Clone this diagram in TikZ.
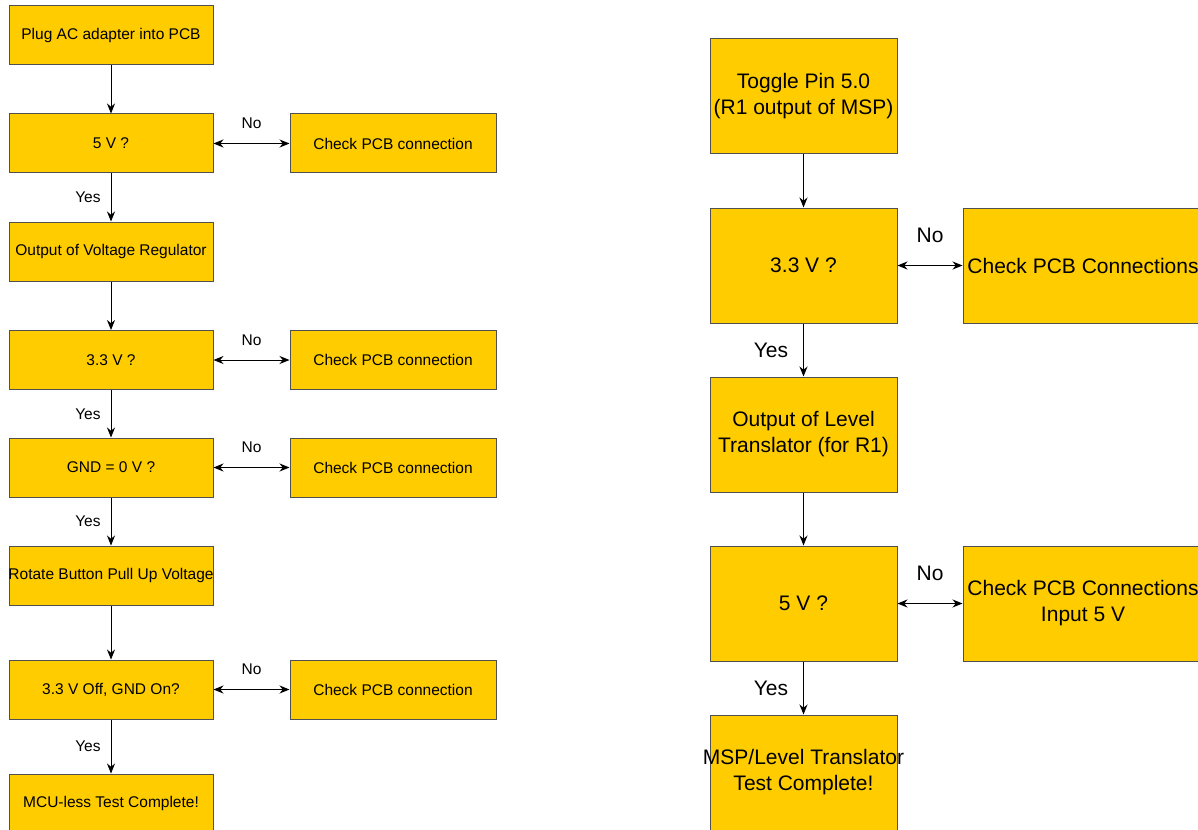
\documentclass[tikz,border=0pt]{standalone}
\usepackage{fontspec}
\setmainfont{Liberation Sans}
\usetikzlibrary{arrows.meta}
\definecolor{ambr}{RGB}{255,204,0}
\definecolor{boxline}{RGB}{80,80,80}
\newcommand\cln[1]{\makebox[0pt]{#1}}
\tikzset{
  lbox/.style={rectangle, draw=boxline, line width=1pt, fill=ambr, inner sep=0pt,
    minimum width=204pt, minimum height=59pt, align=center,
    font=\fontsize{15.5}{18}\selectfont},
  lchk/.style={lbox, minimum width=206pt},
  rbox/.style={rectangle, draw=boxline, line width=1pt, fill=ambr, inner sep=0pt,
    minimum width=187pt, minimum height=115pt, align=center,
    font=\fontsize{21}{26}\selectfont},
  rchk/.style={rbox, minimum width=240pt},
  flow/.style={draw=black, line width=0.9pt, -{Stealth[length=10pt,width=8pt]}},
  both/.style={draw=black, line width=0.9pt, {Stealth[length=10pt,width=8pt]}-{Stealth[length=10pt,width=8pt]}},
  slab/.style={font=\fontsize{15.5}{18}\selectfont, inner sep=0pt},
  blab/.style={font=\fontsize{21}{25}\selectfont, inner sep=0pt}
}
\begin{document}
\begin{tikzpicture}[x=1pt,y=-1pt]
\useasboundingbox (0,0) rectangle (1198,829);
\begin{scope}
\clip (0,0) rectangle (1198,829);
% left column
\node[lbox] (l1) at (111,35.5) {\cln{Plug AC adapter into PCB}};
\node[lbox] (l2) at (111,143.5) {\cln{5 V ?}};
\node[lbox] (l3) at (111,251.5) {\cln{Output of Voltage Regulator}};
\node[lbox] (l4) at (111,360) {\cln{3.3 V ?}};
\node[lbox] (l5) at (111,467.5) {\cln{GND = 0 V ?}};
\node[lbox] (l6) at (111,575.5) {\cln{Rotate Button Pull Up Voltage}};
\node[lbox] (l7) at (111,689.5) {\cln{3.3 V Off, GND On?}};
\node[lbox] (l8) at (111,803.5) {\cln{MCU-less Test Complete!}};
\node[lchk] (c2) at (393,143.5) {\cln{Check PCB connection}};
\node[lchk] (c4) at (393,360) {\cln{Check PCB connection}};
\node[lchk] (c5) at (393,467.5) {\cln{Check PCB connection}};
\node[lchk] (c7) at (393,689.5) {\cln{Check PCB connection}};
\draw[flow] (l1) -- (l2);
\draw[flow] (l2) -- node[slab, pos=0.5, left=10pt] {Yes} (l3);
\draw[flow] (l3) -- (l4);
\draw[flow] (l4) -- node[slab, pos=0.5, left=10pt] {Yes} (l5);
\draw[flow] (l5) -- node[slab, pos=0.5, left=10pt] {Yes} (l6);
\draw[flow] (l6) -- (l7);
\draw[flow] (l7) -- node[slab, pos=0.5, left=10pt] {Yes} (l8);
\draw[both] (l2) -- node[slab, pos=0.5, above=14pt] {No} (c2);
\draw[both] (l4) -- node[slab, pos=0.5, above=14pt] {No} (c4);
\draw[both] (l5) -- node[slab, pos=0.5, above=14pt] {No} (c5);
\draw[both] (l7) -- node[slab, pos=0.5, above=14pt] {No} (c7);
% right column
\node[rbox] (r1) at (803.5,96.5) {\cln{Toggle Pin 5.0}\\\cln{(R1 output of MSP)}};
\node[rbox] (r2) at (803.5,265.5) {\cln{3.3 V ?}};
\node[rbox] (r3) at (803.5,434.5) {\cln{Output of Level}\\\cln{Translator (for R1)}};
\node[rbox] (r4) at (803.5,603.5) {\cln{5 V ?}};
\node[rbox] (r5) at (803.5,772.5) {\cln{MSP/Level Translator}\\\cln{Test Complete!}};
\node[rchk] (d2) at (1083,265.5) {\cln{Check PCB Connections}};
\node[rchk] (d4) at (1083,603.5) {\cln{Check PCB Connections}\\\cln{Input 5 V}};
\draw[flow] (r1) -- (r2);
\draw[flow] (r2) -- node[blab, pos=0.5, left=15pt] {Yes} (r3);
\draw[flow] (r3) -- (r4);
\draw[flow] (r4) -- node[blab, pos=0.5, left=15pt] {Yes} (r5);
\draw[both] (r2) -- node[blab, pos=0.5, above=22pt] {No} (d2);
\draw[both] (r4) -- node[blab, pos=0.5, above=22pt] {No} (d4);
\end{scope}
\end{tikzpicture}
\end{document}
